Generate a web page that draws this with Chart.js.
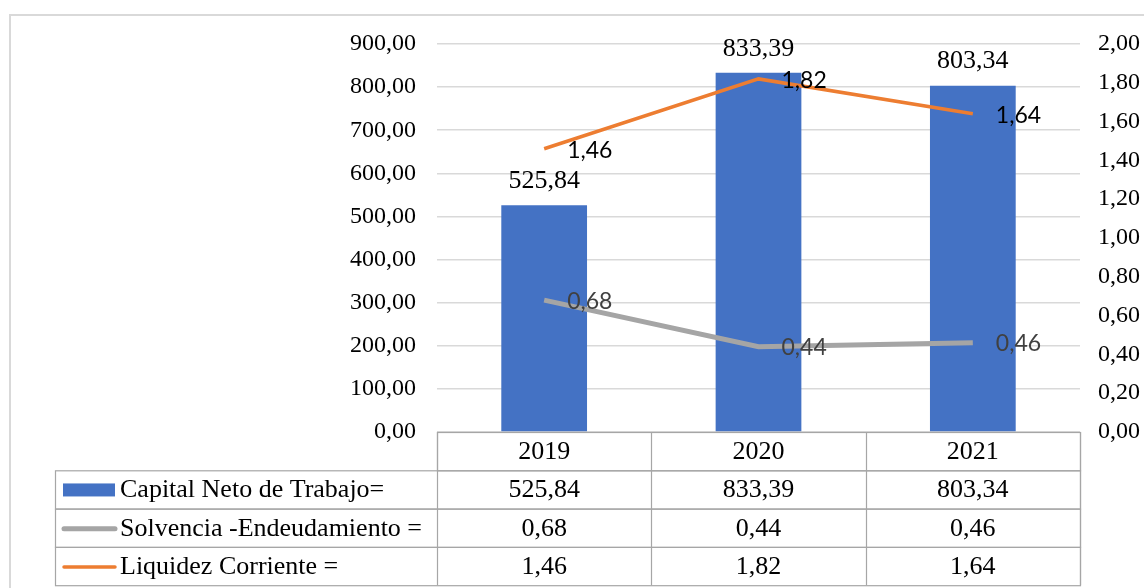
<!DOCTYPE html>
<html lang="es">
<head>
<meta charset="UTF-8">
<title>Indicadores</title>
<script src="https://cdn.jsdelivr.net/npm/chart.js@4.4.1/dist/chart.umd.min.js"></script>
<style>
  body { margin: 0; background: #fff; }
  canvas { display: block; }
</style>
</head>
<body>
<canvas id="grafico" width="1144" height="588"></canvas>
<script>
const anios = ["2019", "2020", "2021"];
const capitalNeto = [525.84, 833.39, 803.34];
const solvencia = [0.68, 0.44, 0.46];
const liquidez = [1.46, 1.82, 1.64];
const nombres = ["Capital Neto de Trabajo=", "Solvencia -Endeudamiento =", "Liquidez Corriente ="];

const azul = "#4472C4", gris = "#A5A5A5", naranja = "#ED7D31";
const serif = "'Liberation Serif', 'Times New Roman', serif";
const sans = "Lato, 'Open Sans', sans-serif";

function coma(v) { return v.toFixed(2).replace(".", ","); }

// etiquetas de datos + tabla de datos debajo del grafico
const tablaPlugin = {
  id: "tabla",
  afterDraw(chart) {
    const ctx = chart.ctx;
    const area = chart.chartArea;
    const x = chart.scales.x;
    ctx.save();

    // marco exterior
    ctx.strokeStyle = "#d9d9d9";
    ctx.lineWidth = 2;
    ctx.strokeRect(10, 15, 1160, 600);

    // etiquetas de barras
    ctx.font = "26px " + serif;
    ctx.fillStyle = "#000";
    ctx.textAlign = "center";
    ctx.textBaseline = "middle";
    chart.getDatasetMeta(0).data.forEach((b, i) => {
      ctx.fillText(coma(capitalNeto[i]), b.x, b.y - 24);
    });

    // etiquetas de lineas
    ctx.font = "23px " + sans;
    ctx.textAlign = "left";
    chart.getDatasetMeta(1).data.forEach((p, i) => {
      ctx.fillStyle = "#404040";
      ctx.fillText(coma(solvencia[i]), p.x + 23, p.y + 1);
    });
    chart.getDatasetMeta(2).data.forEach((p, i) => {
      ctx.fillStyle = "#000";
      ctx.fillText(coma(liquidez[i]), p.x + 23, p.y + 2);
    });

    // tabla
    const filaH = 38.3;
    const top = area.bottom;
    const izq = 55;
    const cols = [area.left];
    anios.forEach((a, i) => cols.push(area.left + (i + 1) * (area.right - area.left) / anios.length));
    ctx.strokeStyle = "#a6a6a6";
    ctx.lineWidth = 1.2;
    // cabecera
    ctx.strokeRect(area.left + 0.5, top + 0.5, area.right - area.left, filaH);
    // filas
    for (let r = 1; r <= 3; r++) {
      ctx.strokeRect(izq + 0.5, top + r * filaH + 0.5, area.right - izq, filaH);
    }
    ctx.beginPath();
    cols.forEach(c => {
      ctx.moveTo(Math.round(c) + 0.5, top);
      ctx.lineTo(Math.round(c) + 0.5, top + 4 * filaH);
    });
    ctx.stroke();

    ctx.fillStyle = "#000";
    ctx.font = "26px " + serif;
    ctx.textAlign = "center";
    anios.forEach((a, i) => ctx.fillText(a, x.getPixelForValue(i), top + filaH / 2 + 1));
    const series = [capitalNeto, solvencia, liquidez];
    series.forEach((s, r) => {
      const cy = top + (r + 1) * filaH + filaH / 2 + 1;
      s.forEach((v, i) => ctx.fillText(coma(v), x.getPixelForValue(i), cy));
    });

    // leyenda dentro de la tabla
    ctx.textAlign = "left";
    nombres.forEach((n, r) => {
      const cy = top + (r + 1) * filaH + filaH / 2;
      if (r === 0) {
        ctx.fillStyle = azul;
        ctx.fillRect(63, cy - 6, 52, 13);
      } else {
        ctx.strokeStyle = r === 1 ? gris : naranja;
        ctx.lineWidth = r === 1 ? 5 : 3.5;
        ctx.lineCap = "round";
        ctx.beginPath();
        ctx.moveTo(64, cy + 1);
        ctx.lineTo(115, cy + 1);
        ctx.stroke();
      }
      ctx.fillStyle = "#000";
      ctx.fillText(n, 120, cy + 1);
    });
    ctx.restore();
  }
};

new Chart("grafico", {
  type: "bar",
  data: {
    labels: anios,
    datasets: [
      {
        label: nombres[0],
        data: capitalNeto,
        backgroundColor: azul,
        barPercentage: 0.4,
        categoryPercentage: 1,
        yAxisID: "y",
        order: 3
      },
      {
        type: "line",
        label: nombres[1],
        data: solvencia,
        borderColor: gris,
        borderWidth: 5,
        pointRadius: 0,
        tension: 0,
        yAxisID: "y1",
        order: 1
      },
      {
        type: "line",
        label: nombres[2],
        data: liquidez,
        borderColor: naranja,
        borderWidth: 3.5,
        pointRadius: 0,
        tension: 0,
        yAxisID: "y1",
        order: 0
      }
    ]
  },
  options: {
    responsive: false,
    animation: false,
    layout: { padding: { top: 44, bottom: 156, left: 0, right: 0 } },
    plugins: {
      legend: { display: false },
      tooltip: { enabled: false }
    },
    scales: {
      x: { display: false, offset: true },
      y: {
        position: "left",
        min: 0,
        max: 900,
        afterFit(s) { s.width = 437; },
        ticks: {
          stepSize: 100,
          padding: 21,
          color: "#000",
          font: { family: serif, size: 24 },
          callback: v => coma(v)
        },
        grid: { color: "#d9d9d9", lineWidth: 1.5, drawTicks: false },
        border: { display: false }
      },
      y1: {
        position: "right",
        min: 0,
        max: 2,
        afterFit(s) { s.width = 64; },
        ticks: {
          stepSize: 0.2,
          padding: 18,
          color: "#000",
          font: { family: serif, size: 24 },
          callback: v => coma(v)
        },
        grid: { display: false, drawTicks: false },
        border: { display: false }
      }
    }
  },
  plugins: [tablaPlugin]
});
</script>
</body>
</html>
